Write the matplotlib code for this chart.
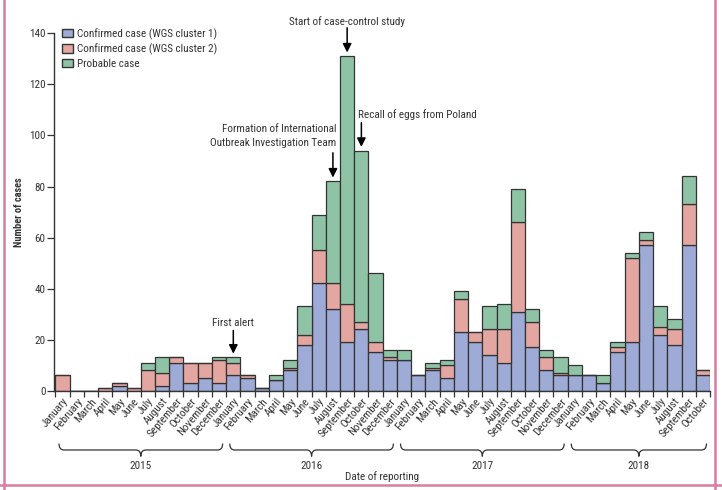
#!/usr/bin/env python3
"""Stacked monthly bar chart of outbreak cases by date of reporting, 2015-2018."""

import matplotlib
matplotlib.use('Agg')
import matplotlib.pyplot as plt
from matplotlib import font_manager
from matplotlib.patches import Patch, PathPatch
from matplotlib.path import Path
from matplotlib.lines import Line2D
from matplotlib.transforms import blended_transform_factory

MONTHS = ['January', 'February', 'March', 'April', 'May', 'June', 'July',
          'August', 'September', 'October', 'November', 'December']
YEARS = ['2015', '2016', '2017', '2018']
MONTHS_PER_YEAR = [12, 12, 12, 10]

# cases per month, Jan 2015 .. Oct 2018
cluster1 = [0, 0, 0, 0, 2, 0, 0, 2, 11, 3, 5, 3,
            6, 5, 1, 4, 8, 18, 42, 32, 19, 24, 15, 12,
            12, 6, 8, 5, 23, 19, 14, 11, 31, 17, 8, 6,
            6, 6, 3, 15, 19, 57, 22, 18, 57, 6]
cluster2 = [6, 0, 0, 1, 1, 1, 8, 5, 2, 8, 6, 9,
            5, 1, 0, 0, 1, 4, 13, 10, 15, 3, 4, 1,
            0, 0, 1, 5, 13, 4, 10, 13, 35, 10, 5, 1,
            0, 0, 0, 2, 33, 2, 3, 6, 16, 2]
probable = [0, 0, 0, 0, 0, 0, 3, 6, 0, 0, 0, 1,
            2, 0, 0, 2, 3, 11, 14, 40, 97, 67, 27, 3,
            4, 0, 2, 2, 3, 0, 9, 10, 13, 5, 3, 6,
            4, 0, 3, 2, 2, 3, 8, 4, 11, 0]

SERIES_LABELS = ['Confirmed case (WGS cluster 1)', 'Confirmed case (WGS cluster 2)', 'Probable case']
COLORS = ['#9eabd6', '#e3a6a1', '#8fc3a6']
EDGE = '#333333'
TEXT = '#333333'

# (label, month index, text x, text y, arrow start y, ha)
EVENTS = [
    ('First alert', 12, 12.0, 26.6, 23.6, 'center'),
    ('Formation of International\nOutbreak Investigation Team', 19, 19.25, 99.8, 93.2, 'right'),
    ('Start of case-control study', 20, 20.0, 144.6, 142.2, 'center'),
    ('Recall of eggs from Poland', 21, 20.75, 108.0, 105.0, 'left'),
]


def draw_brace(ax, x0, x1, y, h, r=0.35):
    trans = blended_transform_factory(ax.transData, ax.transAxes)
    xm = (x0 + x1) / 2
    verts = [(x0, y + h), (x0, y), (x0 + r, y), (xm - r, y), (xm, y), (xm, y - h),
             (xm, y), (xm + r, y), (x1 - r, y), (x1, y), (x1, y + h)]
    codes = [Path.MOVETO, Path.CURVE3, Path.CURVE3, Path.LINETO, Path.CURVE3, Path.CURVE3,
             Path.CURVE3, Path.CURVE3, Path.LINETO, Path.CURVE3, Path.CURVE3]
    patch = PathPatch(Path(verts, codes), transform=trans, facecolor='none',
                      edgecolor=TEXT, lw=0.9, clip_on=False)
    ax.add_patch(patch)


def main() -> None:
    names = {f.name for f in font_manager.fontManager.ttflist}
    narrow = [n for n in ['Roboto Condensed', 'Liberation Sans Narrow', 'Open Sans Condensed'] if n in names]
    plt.rcParams['font.family'] = narrow + ['DejaVu Sans']
    plt.rcParams['font.stretch'] = 'condensed'

    labels = []
    for n in MONTHS_PER_YEAR:
        labels += MONTHS[:n]
    x = list(range(len(labels)))

    fig = plt.figure(figsize=(7.22, 4.9), dpi=100)
    ax = fig.add_axes([0.0748, 0.2027, 0.9086, 0.7292])

    bottom = [0] * len(x)
    for vals, col, lab in zip([cluster1, cluster2, probable], COLORS, SERIES_LABELS):
        ax.bar(x, vals, width=1.0, bottom=bottom, color=col, edgecolor=EDGE, linewidth=0.9, label=lab)
        bottom = [b + v for b, v in zip(bottom, vals)]
    totals = bottom

    ax.set_xlim(-0.6, 45.5)
    ax.set_ylim(0, 140)
    ax.set_yticks(range(0, 141, 20))
    ax.tick_params(axis='y', labelsize=8, colors=TEXT, length=5, width=0.9, pad=1)

    # month boundaries as ticks, labels at bar centres
    ax.set_xticks([i - 0.5 for i in x] + [len(x) - 0.5])
    ax.set_xticklabels([])
    ax.set_xticks(x, minor=True)
    ax.set_xticklabels(labels, minor=True, rotation=50, ha='right', va='top',
                       rotation_mode='anchor', fontsize=8, color=TEXT)
    ax.tick_params(axis='x', which='major', length=4, width=0.9, color=TEXT)
    ax.tick_params(axis='x', which='minor', length=0, pad=4)

    for side in ['top', 'right']:
        ax.spines[side].set_visible(False)
    for side in ['left', 'bottom']:
        ax.spines[side].set_color(TEXT)
        ax.spines[side].set_linewidth(1.0)

    ax.set_ylabel('Number of cases', fontsize=7.5, color=TEXT, labelpad=3.5, fontweight='bold')

    # year braces
    start = 0
    for year, n in zip(YEARS, MONTHS_PER_YEAR):
        x0, x1 = start - 0.25, start + n - 1 + 0.25
        draw_brace(ax, x0, x1, -0.166, 0.018)
        ax.text((x0 + x1) / 2, -0.212, year, transform=blended_transform_factory(ax.transData, ax.transAxes),
                ha='center', va='center', fontsize=8, color=TEXT)
        start += n
    ax.text(0.50, -0.240, 'Date of reporting', transform=ax.transAxes, ha='center', va='center',
            fontsize=8, color=TEXT)

    # event annotations
    for text, idx, tx, ty, ay, ha in EVENTS:
        ax.text(tx, ty, text, ha=ha, va='center', fontsize=8, color=TEXT, clip_on=False,
                linespacing=1.45)
        ax.annotate('', xy=(idx, totals[idx] + 1.5), xytext=(idx, ay),
                    arrowprops=dict(arrowstyle='-|>', color='black', lw=1.1,
                                    mutation_scale=13, shrinkA=0, shrinkB=0),
                    annotation_clip=False)

    handles = [Patch(facecolor=c, edgecolor=EDGE, linewidth=1.0) for c in COLORS]
    ax.legend(handles, SERIES_LABELS, loc='upper left', bbox_to_anchor=(0.012, 1.015),
              frameon=False, fontsize=8, handlelength=1.0, handleheight=0.8,
              handletextpad=0.4, labelspacing=0.35, borderaxespad=0, borderpad=0,
              labelcolor=TEXT)

    # pink frame of the source page
    pink = '#dc7aa0'
    fig.add_artist(Line2D([4 / 722, 4 / 722], [0, 1], color=pink, lw=1.8, transform=fig.transFigure))
    fig.add_artist(Line2D([715 / 722, 715 / 722], [0, 1], color=pink, lw=1.8, transform=fig.transFigure))
    fig.add_artist(Line2D([0, 1], [5 / 490, 5 / 490], color=pink, lw=1.8, transform=fig.transFigure))

    fig.savefig('out.png', dpi=100)


if __name__ == '__main__':
    main()
